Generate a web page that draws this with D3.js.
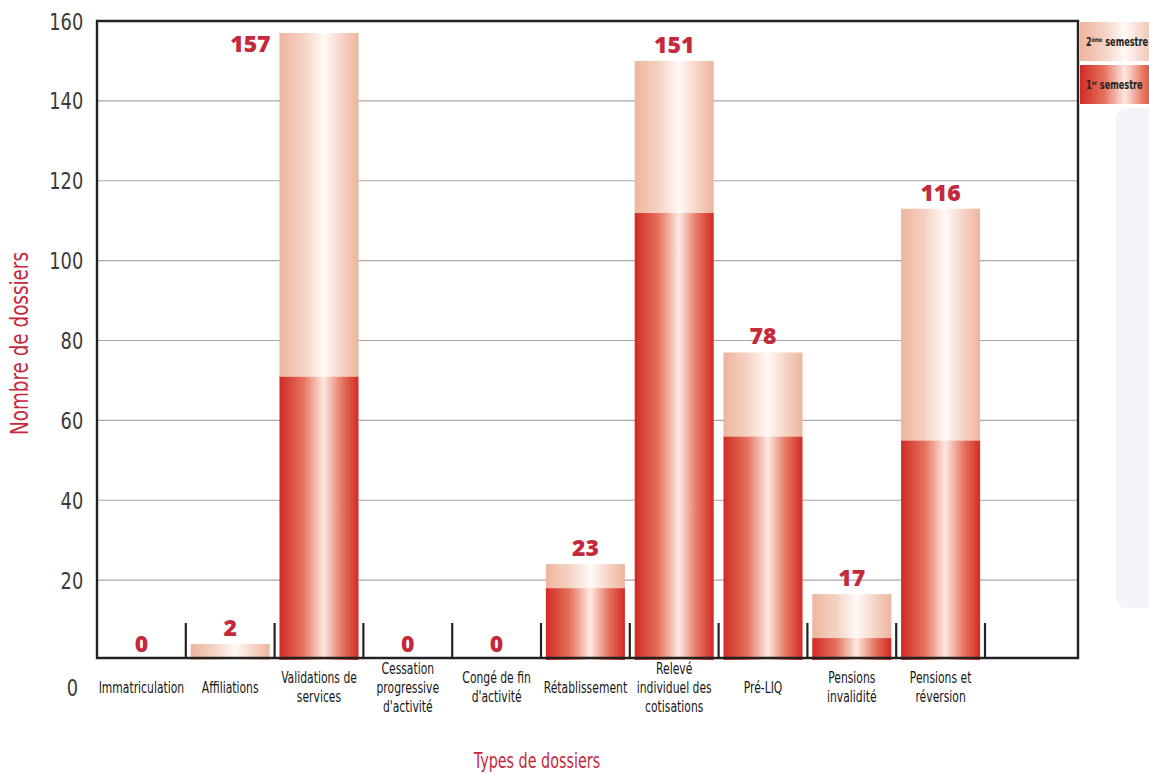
<!DOCTYPE html>
<html><head><meta charset="utf-8">
<script src="https://cdn.jsdelivr.net/npm/d3@7"></script>
<style>
body{margin:0;background:#fff}
svg{display:block}
text{font-family:'DejaVu Sans Condensed','Noto Sans','DejaVu Sans',sans-serif}
</style></head>
<body><svg id="c" width="1149" height="774"></svg>
<script>
// ---- data ----
const categories = ["Immatriculation","Affiliations","Validations de\nservices","Cessation\nprogressive\nd'activité","Congé de fin\nd'activité","Rétablissement","Relevé\nindividuel des\ncotisations","Pré-LIQ","Pensions\ninvalidité","Pensions et\nréversion"];
const semestre1 = [0, 0, 71, 0, 0, 18, 112, 56, 5.5, 55];
const semestre2 = [0, 4, 86, 0, 0, 6, 38, 21, 11, 58];
const totalLabels = [0, 2, 157, 0, 0, 23, 151, 78, 17, 116];
const yTicks = [0, 20, 40, 60, 80, 100, 120, 140, 160];
const seriesNames = ["2ème semestre", "1er semestre"];

// ---- layout ----
const svg = d3.select("#c");
const plotL = 97, plotR = 1078, plotT = 21, plotB = 658, bandsR = 985;
const red = "#c42a3c";

const x = d3.scaleBand().domain(categories).range([plotL, bandsR]);
const y = d3.scaleLinear().domain([0, 160]).range([660, plotT]);

// gradients
const defs = svg.append("defs");
function grad(id, edge, mid, center) {
  const g = defs.append("linearGradient").attr("id", id).attr("x1", "0").attr("x2", "1").attr("y1", "0").attr("y2", "0");
  [[0, edge], [0.3, mid], [0.56, center], [0.8, mid], [1, edge]].forEach(([o, c]) =>
    g.append("stop").attr("offset", o).attr("stop-color", c));
}
grad("gDark", "#d12b26", "#e5725c", "#fde9e2");
grad("gLight", "#edb59e", "#f5d2c3", "#fffaf8");

// light panel right
svg.append("rect").attr("x", 1116).attr("y", 108).attr("width", 60).attr("height", 500)
  .attr("rx", 10).attr("fill", "#f3f5fa");

// gridlines
svg.append("g").selectAll("line").data(yTicks.filter(t => t > 0 && t < 160)).join("line")
  .attr("x1", plotL).attr("x2", plotR).attr("y1", d => y(d)).attr("y2", d => y(d))
  .attr("stroke", "#a9a9a9").attr("stroke-width", 1.2);

// y axis labels
const yAxis = svg.append("g").attr("transform", `translate(${plotL},0)`)
  .call(d3.axisLeft(y).tickValues(yTicks).tickSize(0).tickPadding(16).tickFormat(d3.format("d")));
yAxis.select(".domain").remove();
yAxis.selectAll("text").attr("font-family", null).attr("font-size", 23).attr("fill", "#3a3a3a")
  .attr("font-weight", 300)
  .attr("transform", "scale(0.86,1)")
  .attr("dy", d => d === 0 ? "1.55em" : "0.35em")
  .attr("dx", d => d === 0 ? -6 : 0);

// bars
const bw = x.bandwidth();
const gBars = svg.append("g");
categories.forEach((c, i) => {
  const x0 = x(c) + bw * 0.055, w = bw * 0.89;
  if (semestre1[i] > 0)
    gBars.append("rect").attr("x", x0).attr("width", w)
      .attr("y", y(semestre1[i])).attr("height", y(0) - y(semestre1[i]))
      .attr("fill", "url(#gDark)");
  if (semestre2[i] > 0)
    gBars.append("rect").attr("x", x0).attr("width", w)
      .attr("y", y(semestre1[i] + semestre2[i])).attr("height", y(semestre1[i]) - y(semestre1[i] + semestre2[i]))
      .attr("fill", "url(#gLight)");
});

// separators
svg.append("g").selectAll("line").data(categories.slice(1).map(c => x(c)).concat([bandsR])).join("line")
  .attr("x1", d => d).attr("x2", d => d).attr("y1", plotB).attr("y2", plotB - 35)
  .attr("stroke", "#222").attr("stroke-width", 2.2);

// frame
svg.append("path")
  .attr("d", `M${plotL},${plotB}V${plotT}H${plotR}V${plotB}Z`)
  .attr("fill", "none").attr("stroke", "#222").attr("stroke-width", 2.4);

// value labels
svg.append("g").selectAll("text").data(categories).join("text")
  .attr("x", (c, i) => {
    const top = y(semestre1[i] + semestre2[i]);
    return top < 60 ? x(c) - 4 : x(c) + bw * 0.5;
  })
  .attr("y", (c, i) => {
    const top = y(semestre1[i] + semestre2[i]);
    return top < 60 ? top + 19 : top - 8;
  })
  .attr("text-anchor", (c, i) => y(semestre1[i] + semestre2[i]) < 60 ? "end" : "middle")
  .style("font-family", "'Open Sans', Lato, sans-serif").attr("font-weight", 800)
  .attr("font-size", 23).attr("fill", red)
  .text((c, i) => totalLabels[i]);

// x labels
const xl = svg.append("g").selectAll("text").data(categories).join("text")
  .attr("text-anchor", "middle").attr("font-size", 15).attr("font-weight", 500)
  .attr("fill", "#161616")
  .attr("transform", c => `translate(${x(c) + bw / 2},0) scale(0.8,1)`);
xl.each(function (c) {
  const lines = c.split("\n");
  const y0 = 693 - (lines.length - 1) * 19 / 2;
  d3.select(this).selectAll("tspan").data(lines).join("tspan")
    .attr("x", 0).attr("y", (l, j) => y0 + j * 19).text(l => l);
});

// axis titles
svg.append("text").attr("transform", `translate(28,${(plotT + plotB) / 2 + 4}) rotate(-90) scale(0.85,1)`)
  .attr("text-anchor", "middle").attr("font-size", 24).attr("font-weight", 500)
  .attr("fill", red).text("Nombre de dossiers");
svg.append("text").attr("transform", "translate(537,768) scale(0.76,1)")
  .attr("text-anchor", "middle").attr("font-size", 21).attr("font-weight", 500)
  .attr("fill", red).text("Types de dossiers");

// legend
const lg = svg.append("g");
const legFills = ["url(#gLight)", "url(#gDark)"];
seriesNames.forEach((n, i) => {
  const ly = 22 + i * 43;
  lg.append("rect").attr("x", 1080).attr("y", ly).attr("width", 80).attr("height", 39).attr("fill", legFills[i]);
  const t = lg.append("text").attr("transform", `translate(1086,${ly + 24}) scale(0.76,1)`)
    .attr("font-size", 12).attr("font-weight", "bold").attr("fill", "#222");
  const m = n.match(/^(\d)(\S+)\s(.*)$/);
  t.append("tspan").text(m[1]);
  t.append("tspan").attr("font-size", 6.5).attr("dy", -4).text(m[2]);
  t.append("tspan").attr("dy", 4).text(" " + m[3]);
});
</script>
</body></html>
